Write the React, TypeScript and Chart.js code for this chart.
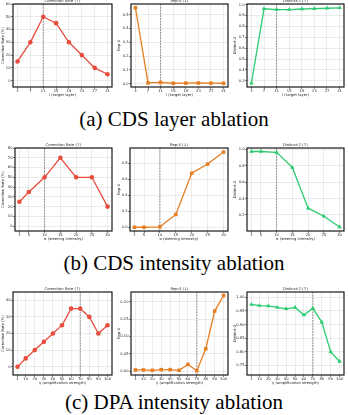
import React, { useEffect, useRef } from "react";
import { Chart, registerables } from "chart.js";

Chart.register(...registerables);

// ---- data ----
const layerX = [3, 7, 11, 15, 19, 23, 27, 31];
const layerCorrection = [15, 30, 50, 45, 30, 20, 10, 5];
const layerRep4 = [0.55, 0.006, 0.009, 0.003, 0.004, 0.005, 0.004, 0.003];
const layerDistinct2 = [0.278, 0.962, 0.955, 0.955, 0.96, 0.963, 0.967, 0.971];
const layerBest = 11;

const alphaX = [2, 5, 10, 15, 20, 25, 30];
const alphaCorrection = [25, 35, 50, 70, 50, 50, 20];
const alphaRep4 = [0.0, 0.0, 0.005, 0.16, 0.675, 0.79, 0.94];
const alphaDistinct2 = [0.975, 0.975, 0.965, 0.78, 0.283, 0.184, 0.052];
const alphaBest = 10;

const gammaX = [1, 10, 20, 30, 40, 50, 60, 70, 80, 90, 100];
const gammaCorrection = [0, 5, 10, 15, 20, 25, 35, 35, 30, 20, 25];
const gammaRep4 = [0.003, 0.003, 0.002, 0.004, 0.004, 0.002, 0.019, 0.001, 0.064, 0.173, 0.218];
const gammaDistinct2 = [0.974, 0.97, 0.969, 0.963, 0.958, 0.963, 0.935, 0.96, 0.909, 0.799, 0.764];
const gammaBest = 70;

const correctionTicks = { a: [0, 10, 20, 30, 40, 50, 60], b: [0, 10, 20, 30, 40, 50, 60, 70, 80], c: [0, 10, 20, 30, 40] };
const rep4Ticks = { a: [0, 0.1, 0.2, 0.3, 0.4, 0.5], b: [0, 0.2, 0.4, 0.6, 0.8], c: [0, 0.05, 0.1, 0.15, 0.2] };
const distinctTicks = { a: [0.3, 0.4, 0.5, 0.6, 0.7, 0.8, 0.9, 1.0], b: [0.2, 0.4, 0.6, 0.8, 1.0], c: [0.75, 0.8, 0.85, 0.9, 0.95, 1.0] };

const captions = ["(a) CDS layer ablation", "(b) CDS intensity ablation", "(c) DPA intensity ablation"];

const RED = "#e74c3c";
const ORANGE = "#e67e22";
const GREEN = "#2ecc71";
const FONT = "DejaVu Sans";
const FS = 3.7;

type Box = { l: number; t: number; r: number; b: number };
type PanelProps = {
  left: number; top: number; width: number; height: number; box: Box;
  xs: number[]; ys: number[]; xMin: number; xMax: number; yMin: number; yMax: number;
  yTicks: number[]; yDec: number; color: string; pointStyle: string; pointRadius: number;
  title: string; xTitle: string; yTitle: string; marked: number;
};

const framePlugin = {
  id: "frameAndExtras",
  beforeDatasetsDraw(chart: any) {
    const o = chart.options.plugins.frameAndExtras;
    const { ctx, chartArea } = chart;
    const x = chart.scales.x.getPixelForValue(o.marked);
    ctx.save();
    ctx.strokeStyle = "#8c8c8c";
    ctx.lineWidth = 1.0;
    ctx.setLineDash([1.8, 1.0]);
    ctx.beginPath();
    ctx.moveTo(x, chartArea.top);
    ctx.lineTo(x, chartArea.bottom);
    ctx.stroke();
    ctx.restore();
  },
  afterDraw(chart: any) {
    const o = chart.options.plugins.frameAndExtras;
    const { ctx, chartArea } = chart;
    ctx.save();
    ctx.strokeStyle = "#1a1a1a";
    ctx.lineWidth = 1.2;
    ctx.strokeRect(chartArea.left, chartArea.top, chartArea.right - chartArea.left, chartArea.bottom - chartArea.top);
    ctx.fillStyle = "#222";
    ctx.font = `${FS}px "${FONT}"`;
    ctx.textAlign = "center";
    ctx.textBaseline = "middle";
    ctx.fillText(o.title, (chartArea.left + chartArea.right) / 2, chartArea.top - 2.7);
    ctx.restore();
  },
};

function Panel(p: PanelProps) {
  const ref = useRef<HTMLCanvasElement>(null);
  useEffect(() => {
    const font = { family: FONT, size: FS };
    const chart = new Chart(ref.current as HTMLCanvasElement, {
      type: "line",
      data: {
        datasets: [
          {
            data: p.xs.map((x, i) => ({ x, y: p.ys[i] })),
            borderColor: p.color,
            backgroundColor: p.color,
            borderWidth: 1.3,
            pointStyle: p.pointStyle as any,
            pointRadius: p.pointRadius,
            pointBorderWidth: 0,
            tension: 0,
          },
        ],
      },
      options: {
        responsive: false,
        animation: false,
        devicePixelRatio: 1,
        layout: { padding: { top: p.box.t, right: p.width - p.box.r, left: 0, bottom: 0 } },
        plugins: {
          legend: { display: false },
          tooltip: { enabled: false },
          title: { display: false },
          frameAndExtras: { title: p.title, marked: p.marked },
        } as any,
        scales: {
          x: {
            type: "linear",
            min: p.xMin,
            max: p.xMax,
            afterBuildTicks: (s: any) => {
              s.ticks = p.xs.map((v) => ({ value: v }));
            },
            afterFit: (s: any) => {
              s.height = p.height - p.box.b;
            },
            ticks: { font, color: "#222", padding: 0.3, maxRotation: 0, autoSkip: false, callback: (v: any) => String(v) },
            grid: { color: "rgba(0,0,0,0.13)", lineWidth: 0.6, tickColor: "#333", tickLength: 2 },
            border: { display: false },
            title: { display: true, text: p.xTitle, font, color: "#222", padding: { top: 0, bottom: 2.5 } },
          },
          y: {
            type: "linear",
            min: p.yMin,
            max: p.yMax,
            afterBuildTicks: (s: any) => {
              s.ticks = p.yTicks.map((v) => ({ value: v }));
            },
            afterFit: (s: any) => {
              s.width = p.box.l;
            },
            ticks: { font, color: "#222", padding: 0.5, autoSkip: false, callback: (v: any) => Number(v).toFixed(p.yDec) },
            grid: { color: "rgba(0,0,0,0.13)", lineWidth: 0.6, tickColor: "#333", tickLength: 2 },
            border: { display: false },
            title: { display: true, text: p.yTitle, font, color: "#222", padding: { top: 1.3, bottom: 0 } },
          },
        },
      } as any,
      plugins: [framePlugin as any],
    });
    return () => chart.destroy();
  }, []);
  return (
    <canvas
      ref={ref}
      width={p.width}
      height={p.height}
      style={{ position: "absolute", left: p.left, top: p.top, width: p.width, height: p.height }}
    />
  );
}

function margins(vals: number[]) {
  const lo = Math.min(...vals);
  const hi = Math.max(...vals);
  const m = (hi - lo) * 0.05;
  return [lo - m, hi + m];
}

export default function App() {
  const rows = [
    {
      top: 0, height: 100, t: 4, b: 87, xs: layerX, xTitle: "l (target layer)", marked: layerBest,
      boxes: [{ l: 13, r: 114 }, { l: 15, r: 113 }, { l: 15, r: 115 }],
      corr: layerCorrection, rep: layerRep4, dist: layerDistinct2,
      corrRange: [-5, 60], repRange: [-0.024, 0.577], distRange: [0.243, 1.006],
      ct: correctionTicks.a, rt: rep4Ticks.a, dt: distinctTicks.a, rDec: 1, dDec: 1,
    },
    {
      top: 138, height: 106, t: 10, b: 93, xs: alphaX, xTitle: "α (steering intensity)", marked: alphaBest,
      boxes: [{ l: 15, r: 115 }, { l: 14, r: 112 }, { l: 15, r: 115 }],
      corr: alphaCorrection, rep: alphaRep4, dist: alphaDistinct2,
      corrRange: [-5, 80], repRange: [-0.047, 0.991], distRange: [0.004, 1.018],
      ct: correctionTicks.b, rt: rep4Ticks.b, dt: distinctTicks.b, rDec: 1, dDec: 1,
    },
    {
      top: 282, height: 106, t: 10, b: 93, xs: gammaX, xTitle: "γ (amplification strength)", marked: gammaBest,
      boxes: [{ l: 13, r: 113 }, { l: 15, r: 112 }, { l: 15, r: 115 }],
      corr: gammaCorrection, rep: gammaRep4, dist: gammaDistinct2,
      corrRange: [-5, 45], repRange: [-0.0115, 0.228], distRange: [0.714, 1.02],
      ct: correctionTicks.c, rt: rep4Ticks.c, dt: distinctTicks.c, rDec: 2, dDec: 2,
    },
  ];
  const captionTops = [108.5, 252.5, 391.5];

  return (
    <div style={{ position: "fixed", left: 0, top: 0, width: 348, height: 415, background: "#fff", overflow: "hidden" }}>
      {rows.map((r, ri) => {
        const [xMin, xMax] = margins(r.xs);
        const common = { top: r.top, height: r.height, width: 116, xs: r.xs, xMin, xMax, xTitle: r.xTitle, marked: r.marked };
        return (
          <React.Fragment key={ri}>
            <Panel
              {...common}
              left={0}
              box={{ l: r.boxes[0].l, r: r.boxes[0].r, t: r.t, b: r.b }}
              ys={r.corr}
              yMin={r.corrRange[0]}
              yMax={r.corrRange[1]}
              yTicks={r.ct}
              yDec={0}
              color={RED}
              pointStyle="circle"
              pointRadius={2.3}
              title="Correction Rate (↑)"
              yTitle="Correction Rate (%)"
            />
            <Panel
              {...common}
              left={116}
              box={{ l: r.boxes[1].l, r: r.boxes[1].r, t: r.t, b: r.b }}
              ys={r.rep}
              yMin={r.repRange[0]}
              yMax={r.repRange[1]}
              yTicks={r.rt}
              yDec={r.rDec}
              color={ORANGE}
              pointStyle="rect"
              pointRadius={2.5}
              title="Rep-4 (↓)"
              yTitle="Rep-4"
            />
            <Panel
              {...common}
              left={232}
              box={{ l: r.boxes[2].l, r: r.boxes[2].r, t: r.t, b: r.b }}
              ys={r.dist}
              yMin={r.distRange[0]}
              yMax={r.distRange[1]}
              yTicks={r.dt}
              yDec={r.dDec}
              color={GREEN}
              pointStyle="triangle"
              pointRadius={2.6}
              title="Distinct-2 (↑)"
              yTitle="Distinct-2"
            />
            <div
              style={{
                position: "absolute",
                left: 0,
                top: captionTops[ri],
                width: 348,
                textAlign: "center",
                fontFamily: '"Liberation Serif", "Times New Roman", serif',
                fontSize: 21,
                lineHeight: "21px",
                color: "#000",
                whiteSpace: "nowrap",
              }}
            >
              {captions[ri]}
            </div>
          </React.Fragment>
        );
      })}
    </div>
  );
}
